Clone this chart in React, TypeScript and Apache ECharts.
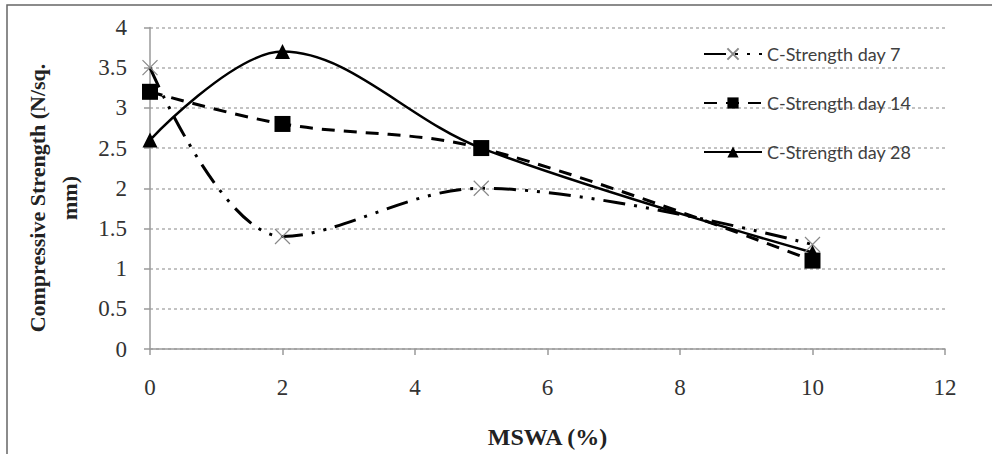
import React, { useEffect, useRef } from "react";
import * as echarts from "echarts";

const xValues = [0, 2, 5, 10];
const day7 = [3.5, 1.4, 2.0, 1.3];
const day14 = [3.2, 2.8, 2.5, 1.1];
const day28 = [2.6, 3.7, 2.5, 1.2];
const seriesNames = ["C-Strength day 7", "C-Strength day 14", "C-Strength day 28"];
const xAxisTitle = "MSWA (%)";
const yAxisTitle = "Compressive Strength (N/sq.\nmm)";

const pair = (ys: number[]) => xValues.map((x, i) => [x, ys[i]]);

export default function App() {
  const ref = useRef<HTMLDivElement>(null);
  useEffect(() => {
    if (!ref.current) return;
    const chart = echarts.init(ref.current, null, { renderer: "svg" });
    const serif = "'Liberation Serif', 'DejaVu Serif', serif";
    const sans = "Lato, 'Open Sans', 'Liberation Sans', sans-serif";
    chart.setOption({
      animation: false,
      backgroundColor: "#ffffff",
      grid: { left: 150, right: 47, top: 27.5, bottom: 105, containLabel: false },
      legend: {
        orient: "vertical",
        left: 698,
        top: 40,
        itemWidth: 58,
        itemHeight: 14,
        itemGap: 31,
        textStyle: { fontFamily: sans, fontSize: 18, color: "#404040", padding: [0, 0, 0, 0] },
        data: seriesNames,
      },
      xAxis: {
        type: "value",
        min: 0,
        max: 12,
        interval: 2,
        name: xAxisTitle,
        nameLocation: "middle",
        nameGap: 76,
        nameTextStyle: { fontFamily: serif, fontSize: 24, fontWeight: "bold", color: "#222" },
        axisLine: { show: true, lineStyle: { color: "#9a9a9a", width: 1.5 } },
        axisTick: { show: true, length: 6, lineStyle: { color: "#9a9a9a", width: 1.5 } },
        axisLabel: { fontFamily: serif, fontSize: 23, color: "#333", margin: 27 },
        splitLine: { show: false },
      },
      yAxis: {
        type: "value",
        min: 0,
        max: 4,
        interval: 0.5,
        axisLine: { show: true, lineStyle: { color: "#9a9a9a", width: 1.5 } },
        axisTick: { show: true, length: 6, lineStyle: { color: "#9a9a9a", width: 1.5 } },
        axisLabel: { fontFamily: serif, fontSize: 23, color: "#333", margin: 23 },
        splitLine: { show: true, lineStyle: { color: "#b0b0b0", width: 1.5, type: [3, 3] } },
      },
      graphic: [
        {
          type: "rect",
          shape: { x: 7, y: 5, width: 1000, height: 500 },
          style: { fill: "none", stroke: "#666", lineWidth: 1.5 },
          silent: true,
        },
        {
          type: "text",
          x: 53,
          y: 198,
          rotation: Math.PI / 2,
          style: {
            text: yAxisTitle,
            fontFamily: serif,
            fontSize: 22,
            fontWeight: "bold",
            fill: "#222",
            align: "center",
            verticalAlign: "middle",
            lineHeight: 32,
          },
        },
      ],
      series: [
        {
          name: seriesNames[0],
          type: "line",
          smooth: 0.35,
          data: pair(day7),
          symbol: "path://M0,0L10,10M10,0L0,10",
          symbolSize: 15,
          itemStyle: { color: "transparent", borderColor: "#888", borderWidth: 1.2 },
          lineStyle: { color: "#000", width: 3, type: [22, 9, 3, 9, 3, 9] },
        },
        {
          name: seriesNames[1],
          type: "line",
          smooth: 0.35,
          data: pair(day14),
          symbol: "rect",
          symbolSize: 16,
          itemStyle: { color: "#000" },
          lineStyle: { color: "#000", width: 3, type: [13, 9] },
        },
        {
          name: seriesNames[2],
          type: "line",
          smooth: 0.35,
          data: pair(day28),
          symbol: "triangle",
          symbolSize: 15,
          itemStyle: { color: "#000" },
          lineStyle: { color: "#000", width: 2.5, type: "solid" },
        },
      ],
    });
    return () => chart.dispose();
  }, []);
  return (
    <div
      ref={ref}
      style={{ position: "fixed", left: 0, top: 0, width: 992, height: 454, background: "#fff" }}
    />
  );
}
